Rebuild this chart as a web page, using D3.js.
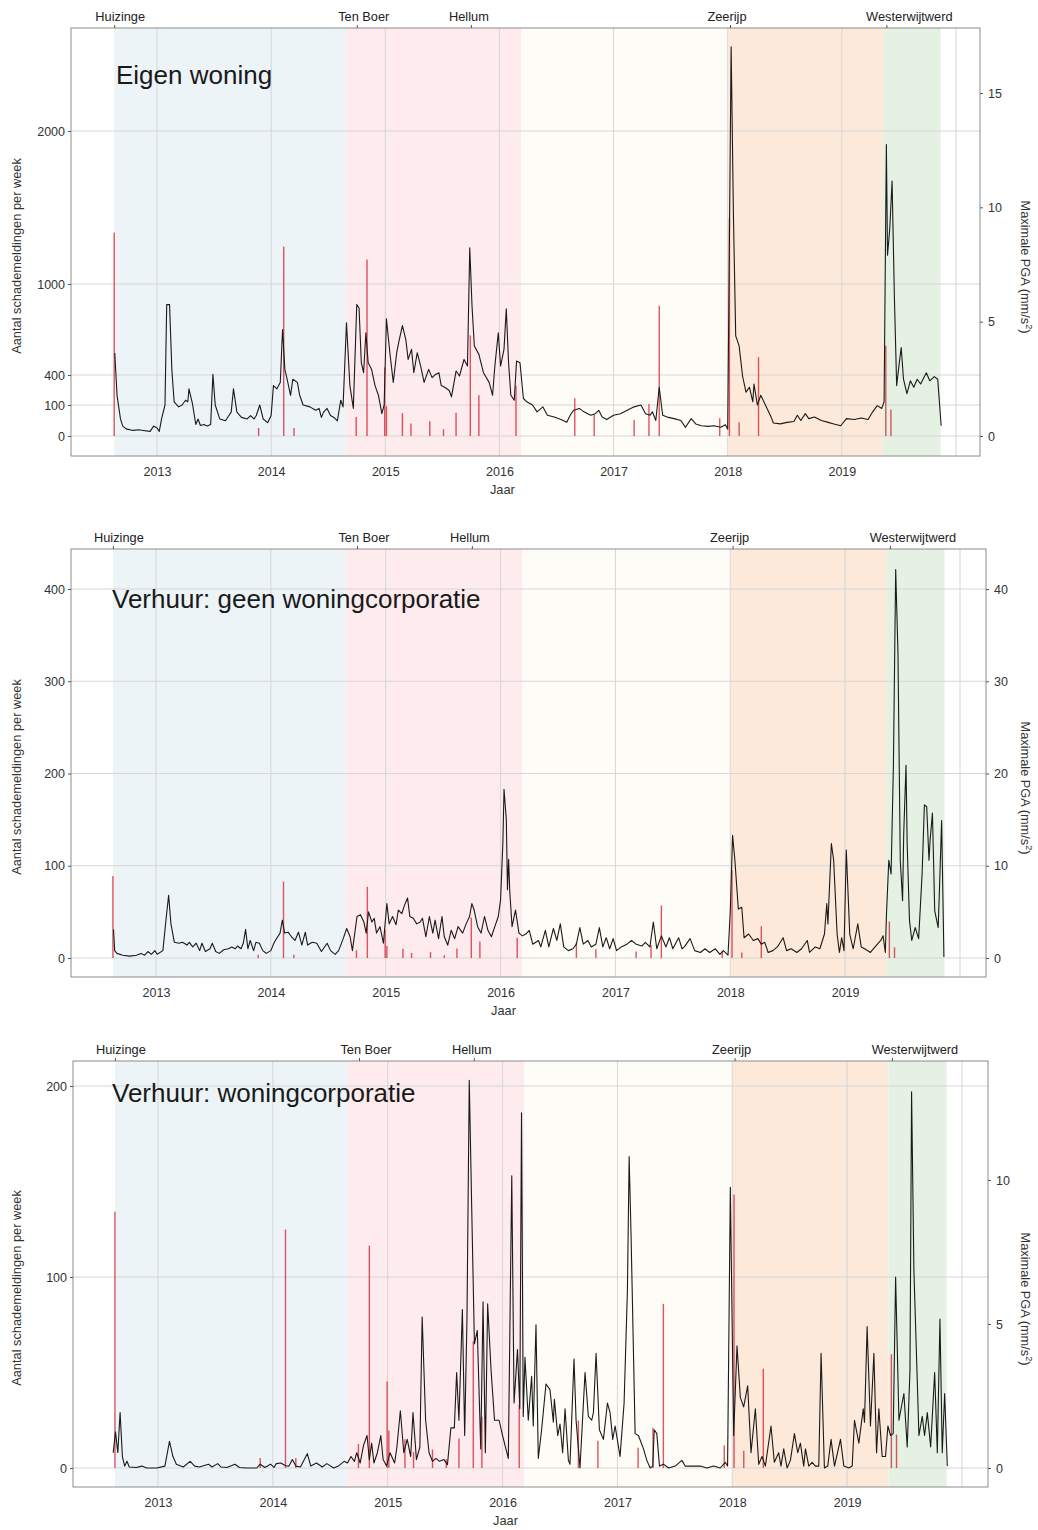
<!DOCTYPE html>
<html>
<head>
<meta charset="utf-8">
<script src="https://cdn.jsdelivr.net/npm/d3@7"></script>
<style>
  body { margin: 0; background: #fff; }
  text { font-family: "Liberation Sans", Arial, sans-serif; }
</style>
</head>
<body>
<svg id="chart" width="1038" height="1530"></svg>
<script>
// weekly damage reports: [decimal year, count]
const eigenWoning = [
  [2012.63,545],[2012.65,197],[2012.68,55],[2012.70,32],[2012.73,23],[2012.79,18],[2012.84,20],[2012.88,18],[2012.94,15],[2012.97,32],
  [2013.00,26],[2013.02,15],[2013.04,55],[2013.07,100],[2013.085,864],[2013.11,864],[2013.13,437],[2013.15,132],[2013.19,94],[2013.22,100],
  [2013.25,148],[2013.27,132],[2013.28,262],[2013.31,116],[2013.34,37],[2013.36,55],[2013.38,34],[2013.41,37],[2013.44,32],[2013.47,37],
  [2013.49,404],[2013.51,100],[2013.55,55],[2013.60,49],[2013.63,66],[2013.65,77],[2013.67,262],[2013.70,77],[2013.74,60],[2013.79,55],
  [2013.82,66],[2013.85,55],[2013.87,66],[2013.90,100],[2013.93,55],[2013.97,43],[2014.00,66],[2014.02,294],[2014.05,262],[2014.08,326],
  [2014.10,700],[2014.12,437],[2014.14,358],[2014.17,197],[2014.19,358],[2014.23,326],[2014.25,197],[2014.28,100],[2014.34,94],[2014.39,83],
  [2014.42,89],[2014.44,60],[2014.46,77],[2014.49,89],[2014.52,66],[2014.55,60],[2014.58,49],[2014.61,148],[2014.63,94],[2014.66,744],
  [2014.69,294],[2014.72,89],[2014.75,864],[2014.77,842],[2014.79,481],[2014.81,415],[2014.83,678],[2014.85,481],[2014.88,437],[2014.91,294],
  [2014.94,197],[2014.97,72],[2014.99,100],[2015.01,770],[2015.04,547],[2015.07,326],[2015.10,547],[2015.12,623],[2015.15,726],[2015.18,634],
  [2015.20,503],[2015.23,569],[2015.25,415],[2015.28,547],[2015.31,459],[2015.34,326],[2015.38,437],[2015.41,374],[2015.44,404],[2015.47,415],
  [2015.49,294],[2015.52,278],[2015.56,245],[2015.58,181],[2015.62,426],[2015.65,390],[2015.69,503],[2015.72,459],[2015.74,1237],[2015.76,853],
  [2015.78,591],[2015.82,536],[2015.86,415],[2015.91,326],[2015.94,197],[2015.96,459],[2015.99,678],[2016.01,459],[2016.04,569],[2016.06,836],
  [2016.08,481],[2016.10,197],[2016.13,148],[2016.15,492],[2016.18,481],[2016.21,165],[2016.24,132],[2016.29,100],[2016.33,78],[2016.38,94],
  [2016.42,67],[2016.48,61],[2016.54,53],[2016.59,44],[2016.62,67],[2016.65,83],[2016.70,89],[2016.74,78],[2016.80,67],[2016.84,72],
  [2016.87,83],[2016.90,61],[2016.94,53],[2017.00,67],[2017.06,72],[2017.12,83],[2017.18,94],[2017.24,100],[2017.28,72],[2017.32,67],
  [2017.34,78],[2017.37,50],[2017.40,278],[2017.43,67],[2017.47,61],[2017.53,56],[2017.59,50],[2017.63,28],[2017.68,56],[2017.72,39],
  [2017.77,33],[2017.83,31],[2017.88,33],[2017.94,28],[2017.98,36],[2018.00,22],[2018.03,2550],[2018.05,1452],[2018.07,658],[2018.10,592],
  [2018.13,390],[2018.16,229],[2018.19,278],[2018.22,132],[2018.23,310],[2018.26,100],[2018.29,197],[2018.33,100],[2018.38,61],[2018.40,42],
  [2018.46,39],[2018.52,44],[2018.58,47],[2018.61,67],[2018.64,50],[2018.68,72],[2018.71,56],[2018.76,61],[2018.82,50],[2018.88,44],
  [2018.93,39],[2018.99,33],[2019.04,56],[2019.11,53],[2019.17,58],[2019.23,53],[2019.27,78],[2019.31,98],[2019.35,89],[2019.37,132],
  [2019.39,1911],[2019.40,1188],[2019.42,1364],[2019.44,1673],[2019.46,923],[2019.48,294],[2019.50,460],[2019.52,581],[2019.54,358],[2019.57,213],
  [2019.60,342],[2019.63,278],[2019.66,358],[2019.69,310],[2019.74,415],[2019.77,342],[2019.81,384],[2019.84,358],[2019.87,33]
]

const geenCorporatie = [
  [2012.63,31],[2012.64,8],[2012.66,5],[2012.71,3],[2012.77,2],[2012.83,3],[2012.87,5],[2012.90,3],[2012.93,7],[2012.96,4],
  [2012.99,8],[2013.01,4],[2013.06,8],[2013.09,45],[2013.11,68],[2013.13,37],[2013.16,17],[2013.20,16],[2013.23,17],[2013.27,14],
  [2013.29,17],[2013.32,12],[2013.35,16],[2013.38,8],[2013.40,16],[2013.43,7],[2013.47,10],[2013.49,16],[2013.52,7],[2013.55,5],
  [2013.59,9],[2013.63,10],[2013.66,12],[2013.69,10],[2013.71,13],[2013.74,10],[2013.76,16],[2013.78,31],[2013.80,10],[2013.82,19],
  [2013.85,8],[2013.87,17],[2013.90,16],[2013.93,8],[2013.96,5],[2014.00,8],[2014.03,17],[2014.06,23],[2014.08,27],[2014.10,41],
  [2014.12,27],[2014.15,28],[2014.18,23],[2014.21,19],[2014.24,28],[2014.27,14],[2014.30,28],[2014.32,14],[2014.36,17],[2014.40,16],
  [2014.44,7],[2014.49,16],[2014.52,8],[2014.56,4],[2014.59,8],[2014.63,21],[2014.66,32],[2014.69,23],[2014.71,8],[2014.75,45],
  [2014.78,47],[2014.81,39],[2014.83,27],[2014.85,50],[2014.88,39],[2014.90,43],[2014.92,27],[2014.95,34],[2014.98,16],[2015.01,59],
  [2015.03,37],[2015.06,45],[2015.09,36],[2015.11,52],[2015.14,48],[2015.16,56],[2015.19,65],[2015.21,45],[2015.24,43],[2015.27,37],
  [2015.30,39],[2015.32,43],[2015.35,23],[2015.38,45],[2015.41,27],[2015.43,41],[2015.46,21],[2015.49,45],[2015.51,23],[2015.54,14],
  [2015.57,30],[2015.60,21],[2015.63,34],[2015.67,27],[2015.70,37],[2015.73,45],[2015.75,59],[2015.77,52],[2015.80,34],[2015.83,27],
  [2015.86,45],[2015.89,30],[2015.92,23],[2015.95,34],[2015.98,45],[2016.00,63],[2016.02,125],[2016.03,183],[2016.05,150],[2016.06,74],
  [2016.07,107],[2016.08,72],[2016.10,34],[2016.13,52],[2016.16,27],[2016.19,24],[2016.22,26],[2016.25,30],[2016.28,15],[2016.33,19],
  [2016.35,12],[2016.39,30],[2016.42,12],[2016.46,32],[2016.49,19],[2016.52,37],[2016.55,12],[2016.59,8],[2016.63,10],[2016.66,15],
  [2016.69,33],[2016.72,15],[2016.76,19],[2016.79,12],[2016.83,15],[2016.86,33],[2016.89,12],[2016.92,22],[2016.95,10],[2016.98,21],
  [2017.01,8],[2017.05,12],[2017.10,15],[2017.14,19],[2017.18,15],[2017.23,13],[2017.26,17],[2017.30,12],[2017.33,39],[2017.36,10],
  [2017.40,24],[2017.44,12],[2017.47,22],[2017.50,10],[2017.55,22],[2017.58,10],[2017.60,12],[2017.65,21],[2017.69,8],[2017.74,6],
  [2017.78,10],[2017.82,6],[2017.87,10],[2017.91,4],[2017.94,8],[2017.98,3],[2018.00,51],[2018.02,133],[2018.04,106],[2018.07,53],
  [2018.10,55],[2018.12,22],[2018.16,26],[2018.20,19],[2018.24,21],[2018.27,15],[2018.30,17],[2018.33,6],[2018.37,8],[2018.41,12],
  [2018.46,22],[2018.49,8],[2018.53,10],[2018.58,6],[2018.62,10],[2018.67,19],[2018.69,6],[2018.74,12],[2018.78,10],[2018.82,26],
  [2018.84,59],[2018.85,37],[2018.88,124],[2018.90,106],[2018.93,26],[2018.95,6],[2018.97,22],[2018.99,8],[2019.01,117],[2019.04,26],
  [2019.07,10],[2019.11,37],[2019.14,12],[2019.17,10],[2019.22,6],[2019.26,12],[2019.31,19],[2019.33,24],[2019.35,6],[2019.36,48],
  [2019.38,106],[2019.40,91],[2019.42,207],[2019.44,421],[2019.46,330],[2019.48,106],[2019.50,62],[2019.51,135],[2019.53,209],[2019.54,124],
  [2019.56,41],[2019.58,19],[2019.61,33],[2019.64,21],[2019.67,91],[2019.69,166],[2019.71,164],[2019.73,106],[2019.74,128],[2019.76,157],
  [2019.78,51],[2019.81,33],[2019.82,70],[2019.84,149],[2019.86,1]
]

const corporatie = [
  [2012.61,8],[2012.63,19],[2012.65,8],[2012.67,29],[2012.69,6],[2012.71,1],[2012.73,3.5],[2012.75,0.5],[2012.81,0.3],[2012.86,1],
  [2012.90,0],[2012.99,0],[2013.06,1],[2013.10,14],[2013.13,6],[2013.16,2],[2013.22,0.5],[2013.28,3.5],[2013.32,1],[2013.36,0.5],
  [2013.44,2],[2013.47,0.5],[2013.52,2.3],[2013.55,0.5],[2013.60,0.3],[2013.67,2],[2013.71,0.3],[2013.77,0],[2013.86,0],[2013.89,2],
  [2013.93,0.3],[2013.98,2],[2014.01,0.3],[2014.03,2.3],[2014.07,2.6],[2014.11,1.2],[2014.14,1],[2014.17,4.4],[2014.20,1],[2014.24,0.5],
  [2014.30,7.5],[2014.33,1],[2014.38,2.6],[2014.43,0.5],[2014.47,2.3],[2014.53,0],[2014.57,1],[2014.62,3.5],[2014.65,2.6],[2014.68,6],
  [2014.71,3.5],[2014.73,8],[2014.76,2.6],[2014.79,12],[2014.82,17],[2014.84,4.4],[2014.86,13],[2014.88,2.6],[2014.91,8],[2014.94,17],
  [2014.96,4.4],[2014.99,1],[2015.02,8],[2015.06,2.6],[2015.08,11],[2015.11,30],[2015.14,8],[2015.17,15],[2015.20,6],[2015.22,29],
  [2015.25,4.4],[2015.28,11],[2015.30,79],[2015.33,25],[2015.36,8],[2015.39,3.5],[2015.42,5],[2015.45,3.5],[2015.49,4.4],[2015.52,1.7],
  [2015.55,21],[2015.58,21],[2015.60,50],[2015.62,25],[2015.65,83],[2015.67,17],[2015.69,78],[2015.71,203],[2015.73,140],[2015.755,65],
  [2015.78,72],[2015.81,10],[2015.83,87],[2015.85,8],[2015.87,86],[2015.90,51],[2015.93,25],[2015.97,25],[2016.00,17],[2016.05,5],
  [2016.08,153],[2016.10,34],[2016.13,62],[2016.15,31],[2016.165,186],[2016.18,27],[2016.195,58],[2016.224,25],[2016.253,48],[2016.267,22],
  [2016.291,75],[2016.311,5],[2016.34,20],[2016.378,44],[2016.413,41],[2016.442,24],[2016.451,36],[2016.48,17],[2016.5,23],[2016.523,8],
  [2016.544,31],[2016.573,4],[2016.587,2],[2016.622,57],[2016.64,25],[2016.674,0],[2016.689,17],[2016.718,50],[2016.747,27],[2016.776,25],
  [2016.791,29],[2016.814,60],[2016.843,20],[2016.878,15],[2016.913,34],[2016.936,29],[2016.959,15],[2016.98,22],[2017.023,6],[2017.058,34],
  [2017.087,93],[2017.102,163],[2017.119,121],[2017.154,18],[2017.183,17],[2017.227,10],[2017.256,4],[2017.285,0],[2017.308,1],[2017.32,20],
  [2017.343,18],[2017.366,1],[2017.401,2],[2017.445,0],[2017.503,1],[2017.561,4],[2017.59,1],[2017.663,1],[2017.721,1],[2017.779,0],
  [2017.837,1],[2017.895,0],[2017.939,3],[2017.959,1],[2017.983,147],[2018.012,17],[2018.041,64],[2018.07,37],[2018.099,32],[2018.134,43],
  [2018.163,8],[2018.201,31],[2018.23,2],[2018.259,6],[2018.288,1],[2018.337,22],[2018.366,3],[2018.404,8],[2018.424,1],[2018.448,10],
  [2018.477,0],[2018.506,4],[2018.541,18],[2018.57,8],[2018.593,13],[2018.622,1],[2018.637,10],[2018.666,1],[2018.695,3],[2018.724,1],
  [2018.753,1],[2018.773,60],[2018.802,0],[2018.831,1],[2018.86,15],[2018.89,1],[2018.942,15],[2018.971,1],[2019.015,0],[2019.044,1],
  [2019.064,25],[2019.102,13],[2019.14,31],[2019.151,24],[2019.174,74],[2019.203,22],[2019.233,60],[2019.256,8],[2019.276,31],[2019.305,6],
  [2019.334,6],[2019.355,22],[2019.378,17],[2019.401,18],[2019.422,100],[2019.451,25],[2019.494,39],[2019.523,11],[2019.547,51],[2019.561,197],
  [2019.581,104],[2019.625,17],[2019.654,27],[2019.674,17],[2019.698,29],[2019.727,11],[2019.762,50],[2019.785,8],[2019.808,78],[2019.828,8],
  [2019.849,39],[2019.872,1]
]

// earthquakes: decimal year and maximum PGA (mm/s2)
const quakeYear = [2012.625, 2013.89, 2014.11, 2014.20, 2014.745, 2014.84, 2014.995, 2015.01, 2015.15, 2015.225, 2015.39, 2015.51, 2015.62, 2015.745,
  2015.82, 2016.145, 2016.66, 2016.83, 2017.18, 2017.31, 2017.40, 2017.93, 2018.015, 2018.10, 2018.27, 2019.385, 2019.43]
const quakePga = [8.9, 0.35, 8.28, 0.35, 0.83, 7.72, 3.0, 1.3, 1.0, 0.55, 0.64, 0.3, 1.02, 4.4,
  1.78, 2.2, 1.65, 0.95, 0.7, 1.4, 5.7, 0.78, 9.5, 0.6, 3.45, 3.95, 1.16]

// named events on the top axis
const eventNames = ["Huizinge", "Ten Boer", "Hellum", "Zeerijp", "Westerwijtwerd"]
const eventYears = [2012.625, 2014.75, 2015.75, 2018.02, 2019.39]

// shaded periods
const periodStart = [2012.625, 2014.65, 2016.19, 2018.005, 2019.36]
const periodEnd = [2014.65, 2016.19, 2018.005, 2019.36, 2019.865]

const yearTicks = [2013, 2014, 2015, 2016, 2017, 2018, 2019]
const yearGrid = [2013, 2014, 2015, 2016, 2017, 2018, 2019, 2020]

const eigenTicks = [0, 100, 400, 1000, 2000]
const eigenPgaTicks = [0, 5, 10, 15]
const geenTicks = [0, 100, 200, 300, 400]
const geenPgaTicks = [0, 10, 20, 30, 40]
const corpTicks = [0, 100, 200]
const corpPgaTicks = [0, 5, 10]

const periodColors = ["#ecf4f8", "#fdebee", "#fefcf6", "#fce9da", "#e5f1e3"]
const labelNudge = [6, 7, -2, -3, 23]

const panels = [
  { title: "Eigen woning", series: eigenWoning, ticks: eigenTicks, pgaTicks: eigenPgaTicks,
    left: 71, right: 980, top: 28, bottom: 456, x2013: 157, x2020: 956,
    countDomain: [0, 100, 400, 1000, 2000], countRange: [436, 405, 375, 284, 131],
    pgaDomain: [0, 15], pgaRange: [436, 93], titleX: 116, titleY: 84 },
  { title: "Verhuur: geen woningcorporatie", series: geenCorporatie, ticks: geenTicks, pgaTicks: geenPgaTicks,
    left: 71, right: 986, top: 549, bottom: 977, x2013: 156, x2020: 960,
    countDomain: [0, 400], countRange: [958, 589],
    pgaDomain: [0, 40], pgaRange: [958, 589], titleX: 112, titleY: 608 },
  { title: "Verhuur: woningcorporatie", series: corporatie, ticks: corpTicks, pgaTicks: corpPgaTicks,
    left: 73, right: 988, top: 1061, bottom: 1487, x2013: 158, x2020: 962,
    countDomain: [0, 200], countRange: [1468, 1086],
    pgaDomain: [0, 10], pgaRange: [1468, 1180], titleX: 112, titleY: 1102 }
]

const svg = d3.select("#chart")

panels.forEach((p, pi) => {
  let x = d3.scaleLinear().domain([2013, 2020]).range([p.x2013, p.x2020])
  let y = d3.scaleLinear().domain(p.countDomain).range(p.countRange)
  let yPga = d3.scaleLinear().domain(p.pgaDomain).range(p.pgaRange)
  let g = svg.append("g")
  let midY = (p.top + p.bottom) / 2

  // shaded periods
  g.append("g")
    .selectAll("rect")
    .data(periodStart)
    .enter()
    .append("rect")
    .attr("x", d => x(d))
    .attr("width", (d, i) => x(periodEnd[i]) - x(d))
    .attr("y", p.top)
    .attr("height", p.bottom - p.top)
    .attr("fill", (d, i) => periodColors[i])

  // grid
  g.append("g")
    .selectAll("line")
    .data(yearGrid)
    .enter()
    .append("line")
    .attr("x1", d => x(d)).attr("x2", d => x(d))
    .attr("y1", p.top).attr("y2", p.bottom)
    .attr("stroke", "#d6d6d6").attr("stroke-width", 1)
  g.append("g")
    .selectAll("line")
    .data(p.ticks)
    .enter()
    .append("line")
    .attr("x1", p.left).attr("x2", p.right)
    .attr("y1", d => y(d)).attr("y2", d => y(d))
    .attr("stroke", "#d6d6d6").attr("stroke-width", 1)

  // earthquake bars
  g.append("g")
    .selectAll("line")
    .data(quakeYear)
    .enter()
    .append("line")
    .attr("x1", d => x(d)).attr("x2", d => x(d))
    .attr("y1", yPga(0))
    .attr("y2", (d, i) => yPga(quakePga[i]))
    .attr("stroke", "#d42c34")
    .attr("stroke-opacity", 0.8)
    .attr("stroke-width", 1.4)

  // weekly reports line
  let line = d3.line()
    .x(d => x(d[0]))
    .y(d => y(d[1]))
  g.append("path")
    .datum(p.series)
    .attr("d", line)
    .attr("fill", "none")
    .attr("stroke", "#1a1a1a")
    .attr("stroke-width", 1.1)
    .attr("stroke-linejoin", "round")

  // frame
  g.append("rect")
    .attr("x", p.left).attr("y", p.top)
    .attr("width", p.right - p.left).attr("height", p.bottom - p.top)
    .attr("fill", "none").attr("stroke", "#8c8c8c").attr("stroke-width", 1)

  // left axis
  let leftAxis = g.append("g")
    .attr("transform", `translate(${p.left},0)`)
    .call(d3.axisLeft(y).tickValues(p.ticks).tickSize(3).tickPadding(3).tickFormat(d3.format("d")))
  leftAxis.select(".domain").remove()

  // right axis
  let rightAxis = g.append("g")
    .attr("transform", `translate(${p.right},0)`)
    .call(d3.axisRight(yPga).tickValues(p.pgaTicks).tickSize(3).tickPadding(5).tickFormat(d3.format("d")))
  rightAxis.select(".domain").remove()

  // bottom axis
  let bottomAxis = g.append("g")
    .attr("transform", `translate(0,${p.bottom})`)
    .call(d3.axisBottom(x).tickValues(yearTicks).tickSize(0).tickPadding(11).tickFormat(d3.format("d")))
  bottomAxis.select(".domain").remove()

  // top axis with named events
  let topAxis = g.append("g")
    .attr("transform", `translate(0,${p.top})`)
    .call(d3.axisTop(x).tickValues(eventYears).tickSize(3).tickFormat(""))
  topAxis.select(".domain").remove()

  g.selectAll(".tick text").attr("font-size", 12.5).attr("fill", "#333")
    .style("font-family", '"Liberation Sans", Arial, sans-serif')
  g.selectAll(".tick line").attr("stroke", "#555")

  g.append("g")
    .selectAll("text")
    .data(eventNames)
    .enter()
    .append("text")
    .attr("x", (d, i) => x(eventYears[i]) + labelNudge[i])
    .attr("y", p.top - 7)
    .attr("text-anchor", "middle")
    .attr("font-size", 12.8)
    .attr("fill", "#222")
    .text(d => d)

  // axis titles
  g.append("text")
    .attr("transform", `translate(21,${midY + 14}) rotate(-90)`)
    .attr("text-anchor", "middle")
    .attr("font-size", 12.8)
    .attr("fill", "#333")
    .text("Aantal schademeldingen per week")
  let rt = g.append("text")
    .attr("transform", `translate(1021,${midY + 25}) rotate(90)`)
    .attr("text-anchor", "middle")
    .attr("font-size", 12.8)
    .attr("fill", "#333")
  rt.append("tspan").text("Maximale PGA (mm/s")
  rt.append("tspan").attr("baseline-shift", "super").attr("font-size", 9).text("2")
  rt.append("tspan").text(")")

  g.append("text")
    .attr("x", x(2016) + 3)
    .attr("y", p.bottom + 38)
    .attr("text-anchor", "middle")
    .attr("font-size", 12.8)
    .attr("fill", "#333")
    .text("Jaar")

  // panel title
  g.append("text")
    .attr("x", p.titleX)
    .attr("y", p.titleY)
    .attr("font-size", 26)
    .attr("fill", "#1a1a1a")
    .text(p.title)
})
</script>
</body>
</html>
